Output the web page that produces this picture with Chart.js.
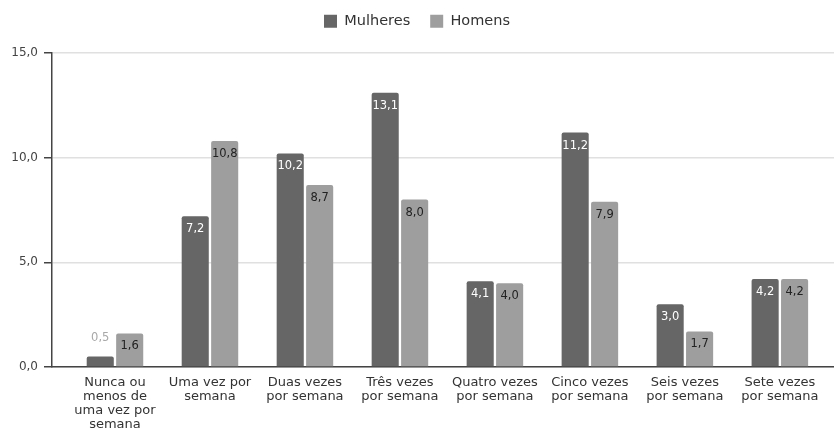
<!DOCTYPE html>
<html>
<head>
<meta charset="utf-8">
<script src="https://cdn.jsdelivr.net/npm/chart.js@4/dist/chart.umd.min.js"></script>
<style>
  html, body { margin: 0; padding: 0; background: #ffffff; }
  #wrap { width: 834px; height: 429px; position: relative; }
</style>
</head>
<body>
<div id="wrap"><canvas id="c"></canvas></div>
<script>
const categories = [
  ["Nunca ou", "menos de", "uma vez por", "semana"],
  ["Uma vez por", "semana"],
  ["Duas vezes", "por semana"],
  ["Três vezes", "por semana"],
  ["Quatro vezes", "por semana"],
  ["Cinco vezes", "por semana"],
  ["Seis vezes", "por semana"],
  ["Sete vezes", "por semana"]
];
const mulheres = [0.5, 7.2, 10.2, 13.1, 4.1, 11.2, 3.0, 4.2];
const homens = [1.6, 10.8, 8.7, 8.0, 4.0, 7.9, 1.7, 4.2];
const yTicks = [0, 5, 10, 15];

const FONT = "'DejaVu Sans', sans-serif";
const fmt = v => v.toFixed(1).replace('.', ',');

const toPoints = arr => arr.map((v, i) => ({ x: i, y: v }));

const legendHeight = {
  id: 'legendHeight',
  beforeInit(chart) {
    const fit = chart.legend.fit;
    chart.legend.fit = function () {
      fit.bind(chart.legend)();
      this.height = 59;
    };
  }
};

const valueLabels = {
  id: 'valueLabels',
  afterDatasetsDraw(chart) {
    const ctx = chart.ctx;
    ctx.save();
    ctx.font = "11.5px " + FONT;
    ctx.textAlign = 'center';
    ctx.textBaseline = 'middle';
    chart.data.datasets.forEach((ds, di) => {
      const meta = chart.getDatasetMeta(di);
      meta.data.forEach((el, i) => {
        const v = ds.data[i].y;
        const h = el.base - el.y;
        const txt = fmt(v);
        if (h < 22) {
          ctx.fillStyle = '#a8a8a8';
          ctx.fillText(txt, el.x, el.y - 19);
        } else {
          ctx.fillStyle = di === 0 ? '#ffffff' : '#222222';
          ctx.fillText(txt, el.x, el.y + 13);
        }
      });
    });
    ctx.restore();
  }
};

new Chart(document.getElementById('c'), {
  type: 'bar',
  data: {
    datasets: [
      {
        label: 'Mulheres',
        data: toPoints(mulheres),
        backgroundColor: '#666666',
        borderRadius: 2,
        categoryPercentage: 0.62,
        barPercentage: 0.92
      },
      {
        label: 'Homens',
        data: toPoints(homens),
        backgroundColor: '#9e9e9e',
        borderRadius: 2,
        categoryPercentage: 0.62,
        barPercentage: 0.92
      }
    ]
  },
  options: {
    responsive: true,
    maintainAspectRatio: false,
    animation: false,
    layout: { padding: { top: -6, left: 0, right: 0, bottom: 0 } },
    plugins: {
      legend: {
        position: 'top',
        labels: {
          font: { family: FONT, size: 14.5 },
          color: '#333333',
          boxWidth: 13,
          boxHeight: 13,
          padding: 20
        }
      },
      tooltip: { enabled: false }
    },
    scales: {
      x: {
        type: 'linear',
        offset: false,
        min: -0.663,
        max: 7.57,
        afterBuildTicks: s => { s.ticks = categories.map((_, i) => ({ value: i })); },
        afterFit: s => { s.height = 62; },
        grid: { display: false, drawTicks: false, offset: false },
        border: { display: true, color: '#444444', width: 1.5 },
        ticks: {
          autoSkip: false,
          maxRotation: 0,
          padding: 8,
          color: '#333333',
          font: { family: FONT, size: 13, lineHeight: 1.1 },
          callback: v => categories[v]
        }
      },
      y: {
        min: 0,
        max: 15,
        afterBuildTicks: s => { s.ticks = yTicks.map(v => ({ value: v })); },
        afterFit: s => { s.width = 52; },
        grid: { color: '#e0e0e0', lineWidth: 1.5, tickColor: '#444444', tickLength: 8 },
        border: { display: true, color: '#444444', width: 1.5 },
        ticks: {
          padding: 6,
          color: '#444444',
          font: { family: FONT, size: 12 },
          callback: v => fmt(v)
        }
      }
    }
  },
  plugins: [legendHeight, valueLabels]
});
</script>
</body>
</html>
